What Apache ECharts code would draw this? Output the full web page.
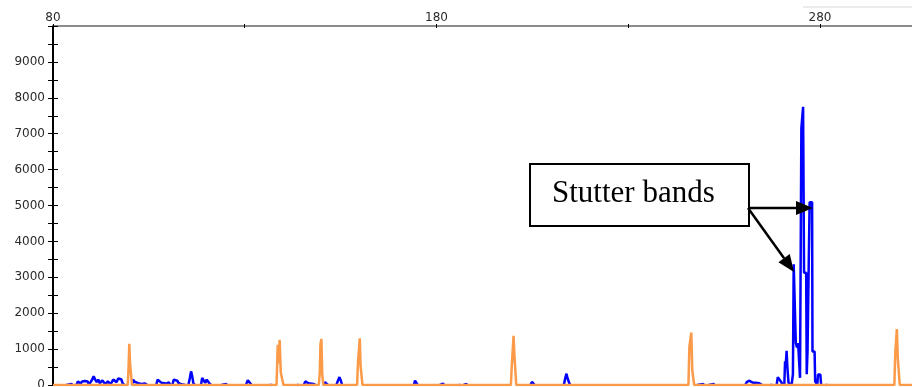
<!DOCTYPE html>
<html><head><meta charset="utf-8">
<script src="https://cdn.jsdelivr.net/npm/echarts@6/dist/echarts.min.js"></script>
<style>html,body{margin:0;padding:0;background:#fff}#c{width:912px;height:387px}</style>
</head><body><div id="c"></div>
<script>
// ---- tick labels ----
const xLabeledTicks = [80, 180, 280];
const yLabeledTicks = [0, 1000, 2000, 3000, 4000, 5000, 6000, 7000, 8000, 9000];

// ---- blue trace (size, signal) ----
const blueLow = [
  [80,0],[83.5,0],[83.8,30],[84.8,30],[85.1,0],
  [86.1,0],[86.5,100],[86.9,90],[87.2,40],[87.6,100],[87.9,60],[88.3,110],[88.7,60],[89.0,100],[89.4,10],
  [89.8,20],[90.2,150],[90.6,240],[91.0,150],[91.4,80],[91.8,150],[92.2,50],[92.6,40],[92.9,130],[93.3,120],[93.6,20],
  [94.0,30],[94.3,100],[94.7,90],[95.0,20],[95.3,50],[95.7,150],[96.2,130],[96.6,80],[97.0,180],[97.4,195],[97.8,160],[98.2,40],[98.6,0],
  [100.6,0],[100.9,150],[101.3,90],[101.7,60],[102.2,50],[103.0,30],[104.0,40],[104.6,0],
  [106.9,0],[107.3,150],[107.8,120],[108.3,60],[108.8,75],[109.5,40],[110.2,70],[110.6,0],
  [111.1,0],[111.5,150],[111.9,195],[112.4,120],[112.7,60],[113.1,100],[113.5,20],[114.5,0],
  [115.3,0],[115.7,200],[116.0,380],[116.3,250],[116.6,50],[117.0,0],
  [118.6,0],[118.9,195],[119.3,150],[119.7,60],[120.1,150],[120.5,130],[120.9,30],[121.3,0],
  [123.9,0],[124.2,30],[125.1,30],[125.4,0],
  [130.3,0],[130.8,130],[131.3,110],[131.8,0],
  [136.5,0],[136.8,20],[137.1,0]
];
const blueMid = [
  [143.6,0],[143.8,20],[144.0,0],
  [145.4,0],[145.8,100],[146.2,80],[146.6,50],[147.0,30],[148.0,30],[148.4,0],
  [150.6,0],[150.9,75],[151.4,60],[151.7,0],
  [153.9,0],[154.3,120],[154.7,220],[155.0,140],[155.4,0],
  [174.1,0],[174.4,120],[174.8,100],[175.1,0],
  [180.9,0],[181.2,55],[181.7,40],[182.0,0],
  [185.8,0],[186.0,20],[186.2,0],
  [187.1,0],[187.4,40],[187.8,30],[188.0,0],
  [204.5,0],[204.9,85],[205.3,70],[205.6,0],
  [213.2,0],[213.6,200],[213.9,315],[214.2,180],[214.6,60],[214.9,0],
  [248.0,0],[248.2,25],[249.5,25],[249.8,0],[251.0,0],[251.2,25],[252.3,25],[252.5,0],
  [260.5,0],[260.9,80],[261.5,120],[262.0,110],[262.6,60],[263.2,60],[263.6,85],[264.2,50],[264.9,0]
];
const blueCluster = [
  [267.0,0],[267.3,40],[267.6,0],
  [268.7,0],[269.0,220],[269.4,240],[269.8,100],[270.3,0],
  [270.7,0],[270.9,660],[271.1,600],[271.3,955],[271.5,500],[271.8,60],
  [272.6,0],[272.95,300],[273.15,3365],[273.55,3365],[273.7,1170],[274.0,1050],[274.3,1170],[274.6,1170],[274.8,200],[275.0,200],
  [275.15,7150],[275.5,7150],[275.6,7750],[275.75,7750],[275.85,3130],[276.4,3130],[276.55,300],
  [276.75,930],[277.1,930],[277.3,5090],[277.95,5090],[278.05,930],[278.6,930],[278.75,100],
  [279.3,0],[279.5,290],[279.8,250],[280.1,290],[280.3,0],
  [281.5,0],[281.7,30],[281.9,0],
  [304,0]
];

// ---- orange trace (size standard) ----
const orangePeak100 = [[99.5,0],[99.7,480],[99.9,1150],[100.1,580],[100.4,560],[100.6,0]];
const orangePeak139 = [[138.3,0],[138.6,1120],[138.8,600],[139.1,1260],[139.4,350],[139.8,330],[140.1,0]];
const orangePeak150 = [[149.3,0],[149.55,300],[149.75,1140],[150.0,1280],[150.2,300],[150.5,0]];
const orangePeak160 = [[159.3,0],[159.55,676],[159.8,676],[160.0,1300],[160.2,540],[160.45,540],[160.7,0],[165.0,0],[165.2,30],[165.4,0]];
const orangePeak200 = [[199.4,0],[199.65,565],[199.85,565],[200.1,1370],[200.35,780],[200.55,780],[200.8,0]];
const orangePeak246 = [[245.7,0],[245.95,1070],[246.2,1070],[246.45,1460],[246.7,410],[246.95,410],[247.2,0]];
const orangePeak300 = [[299.4,0],[299.65,917],[299.85,917],[300.05,1556],[300.3,750],[300.55,750],[300.8,0]];

// blue baseline between bumps is hidden under the orange baseline: break the line there
const blueRaw = blueLow.concat(blueMid, blueCluster);
const blueTrace = [];
blueRaw.forEach((p, i) => {
  if (i > 0 && p[1] === 0 && blueRaw[i - 1][1] === 0) blueTrace.push([(p[0] + blueRaw[i - 1][0]) / 2, null]);
  blueTrace.push(p);
});
const orangeTrace = [[80,0]].concat(orangePeak100, orangePeak139, orangePeak150, orangePeak160,
  orangePeak200, orangePeak246, orangePeak300, [[304,0]]);

const chart = echarts.init(document.getElementById('c'));
const axisFont = {fontFamily: 'DejaVu Sans', fontSize: 12, color: '#2a2a2a'};

function arrow(x1, y1, x2, y2) {
  const L = 17, W = 7;
  const dx = x2 - x1, dy = y2 - y1, len = Math.hypot(dx, dy);
  const ux = dx / len, uy = dy / len;
  const bx = x2 - ux * L, by = y2 - uy * L;
  return [
    {type: 'line', shape: {x1: x1, y1: y1, x2: bx, y2: by}, style: {stroke: '#000', lineWidth: 2.5}, z: 100},
    {type: 'polygon', shape: {points: [[x2, y2], [bx - uy * W, by + ux * W], [bx + uy * W, by - ux * W]]},
     style: {fill: '#000'}, z: 100}
  ];
}

const option = {
  animation: false,
  grid: {left: 53, right: 0, top: 26, bottom: 2, containLabel: false, outerBoundsMode: 'none'},
  xAxis: [
    {type: 'value', position: 'top', min: 80, max: 304, interval: 50,
     axisLine: {show: true, onZero: false, lineStyle: {color: '#8c8c8c', width: 2}},
     axisTick: {show: true, length: 2, lineStyle: {color: '#000', width: 1}},
     axisLabel: Object.assign({margin: 2, showMaxLabel: false, formatter: v => xLabeledTicks.includes(v) ? String(v) : ''}, axisFont),
     splitLine: {show: false}},
    {type: 'value', position: 'top', min: 80, max: 304, interval: 50,
     axisLine: {show: false, onZero: false},
     axisTick: {show: true, inside: true, length: 2, lineStyle: {color: '#000', width: 1}},
     axisLabel: {show: false}, splitLine: {show: false}}
  ],
  yAxis: [
    {type: 'value', position: 'left', min: 0, max: 10000, interval: 500,
     axisLine: {show: true, onZero: false, lineStyle: {color: '#000', width: 2}},
     axisTick: {show: true, length: 5, lineStyle: {color: '#000', width: 1}},
     axisLabel: Object.assign({margin: 8, formatter: v => yLabeledTicks.includes(v) ? String(v) : ''}, axisFont),
     splitLine: {show: false}},
    {type: 'value', position: 'left', min: 0, max: 10000, interval: 500,
     axisLine: {show: false, onZero: false},
     axisTick: {show: true, inside: true, length: 5, lineStyle: {color: '#000', width: 1}},
     axisLabel: {show: false}, splitLine: {show: false}}
  ],
  series: [
    {type: 'line', data: blueTrace, showSymbol: false, symbol: 'none', silent: true, connectNulls: false,
     lineStyle: {color: '#0000ff', width: 2.5}, z: 2},
    {type: 'line', data: orangeTrace, showSymbol: false, symbol: 'none', silent: true,
     lineStyle: {color: '#fb9a48', width: 2.5}, z: 3}
  ],
  graphic: [
    {type: 'line', shape: {x1: 803, y1: 7, x2: 912, y2: 7}, style: {stroke: '#d8d8d8', lineWidth: 1}},
    {type: 'rect', shape: {x: 530, y: 164, width: 219, height: 62}, style: {fill: '#fff', stroke: '#000', lineWidth: 2}, z: 99},
    {type: 'text', style: {text: 'Stutter bands', x: 552, y: 194, fontSize: 31, fontFamily: 'Liberation Serif',
      fill: '#000', verticalAlign: 'middle'}, z: 100}
  ].concat(arrow(748, 208, 813, 208), arrow(748, 208, 794, 272))
};
chart.setOption(option);
</script>
</body></html>
